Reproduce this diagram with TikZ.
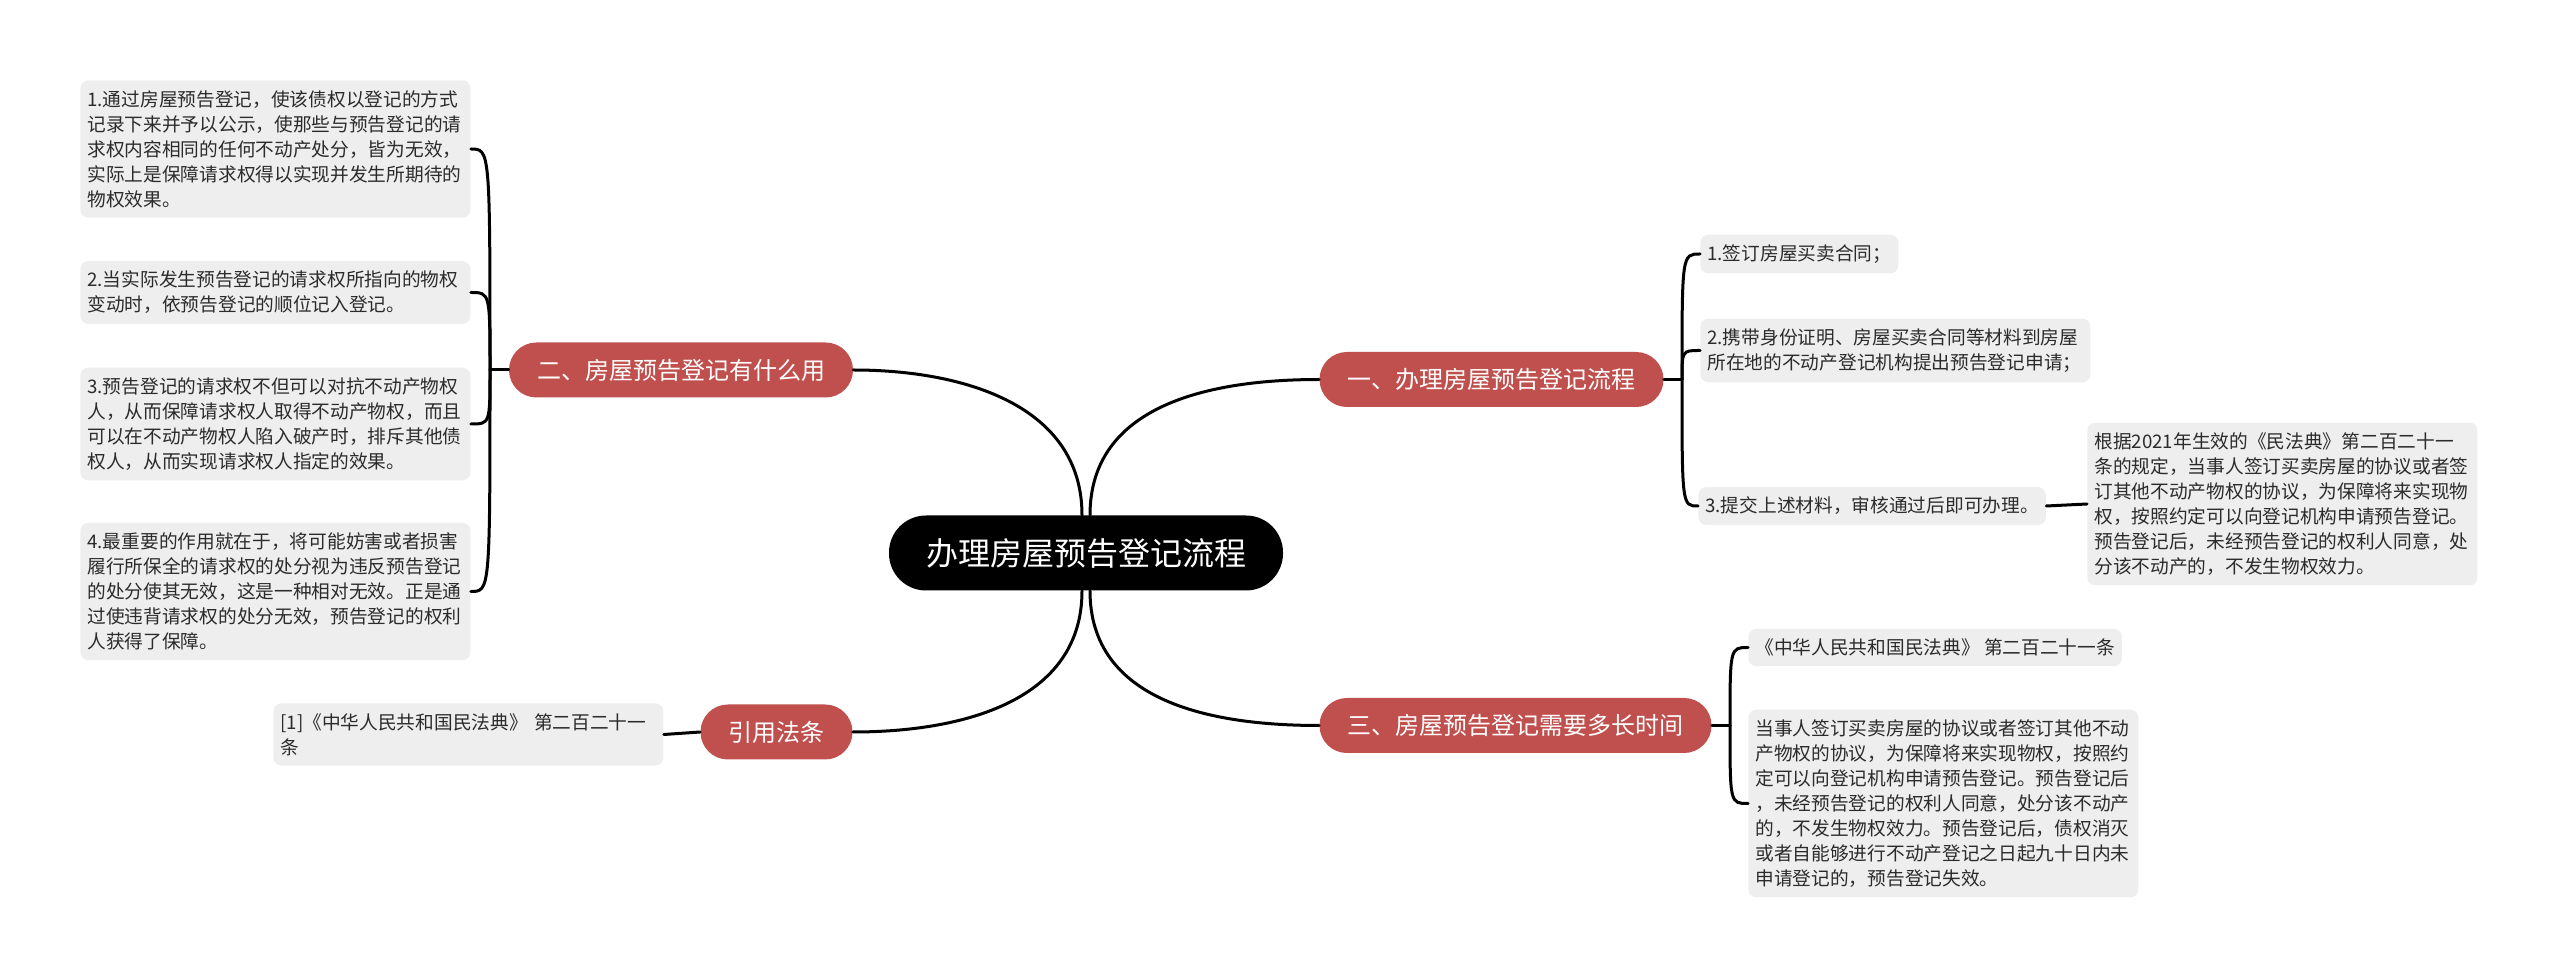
\documentclass[tikz,border=0pt]{standalone}
\usepackage{fontspec}
\setmainfont{Noto Sans CJK SC}
\definecolor{branch}{HTML}{C0504D}
\definecolor{leaf}{HTML}{EEEEEE}
\definecolor{leaftext}{HTML}{2B2B2B}

\begin{document}
\begin{tikzpicture}[
  x=0.5pt, y=-0.5pt,
  line cap=round, line join=round,
  every node/.style={inner sep=0pt},
  root/.style={fill=black, text=white, font=\fontsize{16}{18}\selectfont, rounded corners=18.5pt, minimum height=37.5pt, inner xsep=18.5pt},
  branch/.style={fill=branch, text=white, font=\fontsize{12}{14}\selectfont, rounded corners=13.7pt, minimum height=27.5pt, inner xsep=14pt},
  leafbase/.style={fill=leaf, text=leaftext, font=\fontsize{9.35}{12.5}\selectfont, rounded corners=4pt, inner xsep=3.5pt, inner ysep=5pt, anchor=west},
  leafbox/.style={leafbase, text width=188pt, align=left},
  shortleaf/.style={leafbase},
  link/.style={draw=black, line width=1.5pt},
]
\useasboundingbox (0,0) rectangle (2560,977);
\node[root] (root) at (1086,553) {办理房屋预告登记流程};
\node[branch] (b1) at (1491.5,379.5) {一、办理房屋预告登记流程};
\node[branch] (b2) at (681,370) {二、房屋预告登记有什么用};
\node[branch] (b3) at (1515.5,725.5) {三、房屋预告登记需要多长时间};
\node[branch] (bref) at (776.5,732) {引用法条};
\node[leafbox] (l1) at (80,149) {1.通过房屋预告登记，使该债权以登记的方式\\记录下来并予以公示，使那些与预告登记的请\\求权内容相同的任何不动产处分，皆为无效，\\实际上是保障请求权得以实现并发生所期待的\\物权效果。};
\node[leafbox] (l2) at (80,292.5) {2.当实际发生预告登记的请求权所指向的物权\\变动时，依预告登记的顺位记入登记。};
\node[leafbox] (l3) at (80,424) {3.预告登记的请求权不但可以对抗不动产物权\\人，从而保障请求权人取得不动产物权，而且\\可以在不动产物权人陷入破产时，排斥其他债\\权人，从而实现请求权人指定的效果。};
\node[leafbox] (l4) at (80,591.5) {4.最重要的作用就在于，将可能妨害或者损害\\履行所保全的请求权的处分视为违反预告登记\\的处分使其无效，这是一种相对无效。正是通\\过使违背请求权的处分无效，预告登记的权利\\人获得了保障。};
\node[leafbox] (cite) at (273,734.5) {[1]《中华人民共和国民法典》 第二百二十一\\条};
\node[shortleaf] (r1) at (1700,254) {1.签订房屋买卖合同；};
\node[leafbox] (r2) at (1700,350.5) {2.携带身份证明、房屋买卖合同等材料到房屋\\所在地的不动产登记机构提出预告登记申请；};
\node[shortleaf] (r3) at (1698,506) {3.提交上述材料，审核通过后即可办理。};
\node[leafbox] (r3s) at (2087,504) {根据2021年生效的《民法典》第二百二十一\\条的规定，当事人签订买卖房屋的协议或者签\\订其他不动产物权的协议，为保障将来实现物\\权，按照约定可以向登记机构申请预告登记。\\预告登记后，未经预告登记的权利人同意，处\\分该不动产的，不发生物权效力。};
\node[shortleaf] (t1) at (1748,647.5) {《中华人民共和国民法典》 第二百二十一条};
\node[leafbox] (t2) at (1748,803.5) {当事人签订买卖房屋的协议或者签订其他不动\\产物权的协议，为保障将来实现物权，按照约\\定可以向登记机构申请预告登记。预告登记后\\，未经预告登记的权利人同意，处分该不动产\\的，不发生物权效力。预告登记后，债权消灭\\或者自能够进行不动产登记之日起九十日内未\\申请登记的，预告登记失效。};
\coordinate (hub1) at (1682,379.5);
\coordinate (hub2) at (490,370);
\coordinate (hub3) at (1730,725.5);
\draw[link] ([xshift=-2pt]root.north) .. controls +(0,-110) and +(110,0) .. (b2.east);
\draw[link] ([xshift=2pt]root.north) .. controls +(0,-110) and +(-110,0) .. (b1.west);
\draw[link] ([xshift=-2pt]root.south) .. controls +(0,110) and +(110,0) .. (bref.east);
\draw[link] ([xshift=2pt]root.south) .. controls +(0,110) and +(-110,0) .. (b3.west);
\draw[link] (b2.west) -- (hub2);
\draw[link] (hub2) .. controls (hub2 |- l1) .. (l1.east);
\draw[link] (hub2) .. controls (hub2 |- l2) .. (l2.east);
\draw[link] (hub2) .. controls (hub2 |- l3) .. (l3.east);
\draw[link] (hub2) .. controls (hub2 |- l4) .. (l4.east);
\draw[link] (b1.east) -- (hub1);
\draw[link] (hub1) .. controls (hub1 |- r1) .. (r1.west);
\draw[link] (hub1) .. controls (hub1 |- r2) .. (r2.west);
\draw[link] (hub1) .. controls (hub1 |- r3) .. (r3.west);
\draw[link] (r3.east) -- (r3s.west);
\draw[link] (b3.east) -- (hub3);
\draw[link] (hub3) .. controls (hub3 |- t1) .. (t1.west);
\draw[link] (hub3) .. controls (hub3 |- t2) .. (t2.west);
\draw[link] (bref.west) -- (cite.east);
\end{tikzpicture}
\end{document}
